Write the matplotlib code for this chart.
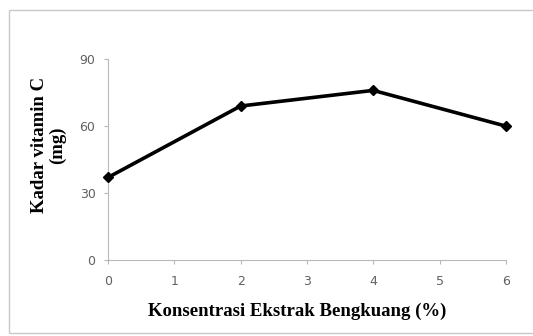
import matplotlib
matplotlib.use('Agg')
import matplotlib.pyplot as plt
from matplotlib.patches import Rectangle

konsentrasi = [0, 2, 4, 6]
vitamin_c = [37, 69, 76, 60]
x_ticks = [0, 1, 2, 3, 4, 5, 6]
y_ticks = [0, 30, 60, 90]

fig = plt.figure(figsize=(5.33, 3.36), dpi=100)
ax = fig.add_axes([0.2026, 0.226, 0.7464, 0.598])

ax.plot(konsentrasi, vitamin_c, color='black', linewidth=2.6,
        marker='D', markersize=5.5, clip_on=False, zorder=5)

ax.set_xlim(0, 6)
ax.set_ylim(0, 90)
ax.set_xticks(x_ticks)
ax.set_yticks(y_ticks)

for side in ['top', 'right']:
    ax.spines[side].set_visible(False)
for side in ['left', 'bottom']:
    ax.spines[side].set_color('#b8b8b8')
    ax.spines[side].set_linewidth(0.8)

ax.tick_params(axis='both', colors='#b8b8b8', labelcolor='#606060',
               labelsize=9, length=3, width=0.8)
ax.tick_params(axis='x', pad=8)
ax.tick_params(axis='y', pad=6)

ax.set_xlabel('Konsentrasi Ekstrak Bengkuang (%)', family='Liberation Serif',
              fontweight='bold', fontsize=13.5, labelpad=10)
ax.set_ylabel('Kadar vitamin C\n(mg)', family='Liberation Serif',
              fontweight='bold', fontsize=13.5, labelpad=10, linespacing=1.0)
ax.xaxis.label.set_x(0.475)
ax.yaxis.label.set_y(0.572)

fig.patches.append(Rectangle((9 / 533, 3 / 336), 1.0, 323 / 336, transform=fig.transFigure,
                             fill=False, edgecolor='#c8c8c8', linewidth=1.0))

plt.savefig('out.png', dpi=100)
